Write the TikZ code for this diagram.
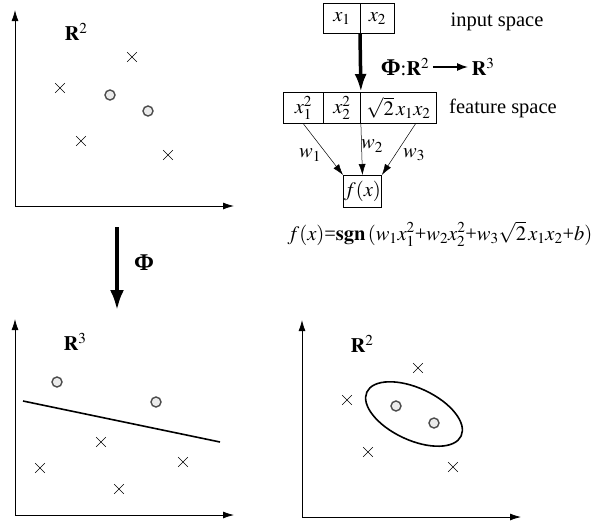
\documentclass[tikz,border=0pt]{standalone}
\usepackage{mathptmx}
\usepackage{fontspec}
\setmainfont{Liberation Serif}
\usetikzlibrary{arrows.meta,shapes.misc,calc}
\begin{document}
\begin{tikzpicture}[x=1pt, y=-1pt, >={Latex[length=11pt,width=7pt]},
  font=\fontsize{20.5}{24}\selectfont,
  axis/.style={->, line width=0.8pt},
  xpt/.style={draw, cross out, minimum size=9pt, inner sep=0pt, line width=0.6pt},
  opt/.style={draw, circle, minimum size=10pt, inner sep=0pt, line width=1.4pt, draw=black!70, fill=black!8},
  cell/.style={draw, rectangle, line width=0.9pt, inner sep=0pt, anchor=north west},
  philbl/.style={font=\fontsize{24}{26}\selectfont}]
\useasboundingbox (0,0) rectangle (595,520);

% input space R^2
\draw[axis] (15,206) -- (15,10);
\draw[axis] (15,206) -- (234,206);
\node (ra) at (76,32) {$\mathbf{R}^2$};
\node[xpt] (a1) at (132,57) {};
\node[xpt] (a2) at (60,88) {};
\node[xpt] (a3) at (81,141) {};
\node[xpt] (a4) at (168,155) {};
\node[opt] (a5) at (110,95) {};
\node[opt] (a6) at (148,111) {};

% mapping
\coordinate (pa) at (117,227);
\coordinate (pb) at (117,310);
\draw[->, line width=3.5pt, >={Latex[length=20pt,width=14pt]}] (pa) -- (pb);
\node[philbl] (phi) at (144,263) {\textbf{Φ}};

% feature space R^3
\draw[axis] (15,515) -- (15,319);
\draw[axis] (15,515) -- (234,515);
\node (rb) at (75,342) {$\mathbf{R}^3$};
\node[opt] (b1) at (57,382) {};
\node[opt] (b2) at (156,402) {};
\node[xpt] (b3) at (101,442) {};
\node[xpt] (b4) at (40,468) {};
\node[xpt] (b5) at (183,462) {};
\node[xpt] (b6) at (119,489) {};
\coordinate (la) at (23,401);
\coordinate (lb) at (220,442);
\draw[line width=1.6pt] (la) -- (lb);

% back in R^2
\draw[axis] (302,517) -- (302,320);
\draw[axis] (302,517) -- (521,517);
\node (rc) at (362,344) {$\mathbf{R}^2$};
\node[xpt] (c1) at (418,368) {};
\node[xpt] (c2) at (347,400) {};
\node[xpt] (c3) at (368,452) {};
\node[xpt] (c4) at (453,467) {};
\node[opt] (c5) at (396,406) {};
\node[opt] (c6) at (434,423) {};
\draw[line width=1.6pt, rotate around={-25:(414,414)}] (414,414) ellipse (52pt and 26pt);

% network
\node[cell, minimum width=37pt, minimum height=30pt] (x1) at (323,3) {$x_1$};
\node[cell, minimum width=34pt, minimum height=30pt] (x2) at (360,3) {$x_2$};
\node (inp) at (497,22) {input space};
\node[cell, minimum width=40pt, minimum height=31pt] (f1) at (283,92) {$x_1^2$};
\node[cell, minimum width=37pt, minimum height=31pt] (f2) at (323,92) {$x_2^2$};
\node[cell, minimum width=76pt, minimum height=31pt] (f3) at (360,92) {$\sqrt{2}\,x_1x_2$};
\node (feat) at (503,108) {feature space};
\draw[->, line width=3.5pt, >={Latex[length=18pt,width=12pt]}] (x2.south west) -- (f2.north east);

\node (map) at (405,67) {{\fontsize{24}{26}\selectfont\textbf{Φ}}:$\mathbf{R}^2$};
\node (img) at (483,67) {$\mathbf{R}^3$};
\draw[->, line width=1.4pt, >={Latex[length=11pt,width=8pt]}] (map) -- (img);

\node[cell, minimum width=38pt, minimum height=32pt] (fx) at (343,175) {$f(x)$};
\draw[->, line width=0.5pt] (f1.south) -- (fx.north west);
\draw[->, line width=0.5pt] (f2.south east) -- (fx.north);
\draw[->, line width=0.5pt] ($(f3.south)+(17,0)$) -- (fx.north east);
\node (w1) at (310,155) {$w_1$};
\node (w2) at (372,146) {$w_2$};
\node (w3) at (414,155) {$w_3$};

\node (fml) at (440,234) {$f(x)$=$\mathbf{sgn}\,(w_1x_1^2$+$w_2x_2^2$+$w_3\sqrt{2}\,x_1x_2$+$b)$};
\end{tikzpicture}
\end{document}
